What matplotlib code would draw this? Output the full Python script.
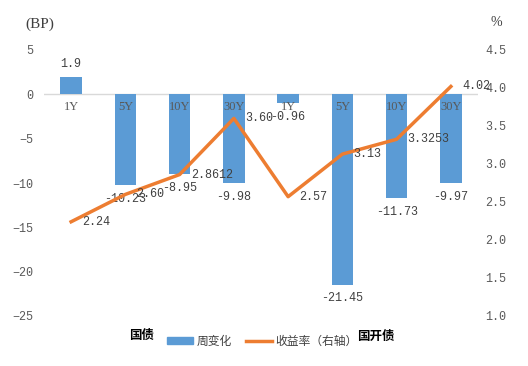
import matplotlib.pyplot as plt
from matplotlib.patches import Patch
from matplotlib.lines import Line2D

# Data
terms   = ["1Y", "5Y", "10Y", "30Y", "1Y", "5Y", "10Y", "30Y"]
weekly  = [1.9, -10.23, -8.95, -9.98, -0.96, -21.45, -11.73, -9.97]
yields  = [2.24, 2.60, 2.8612, 3.60, 2.57, 3.13, 3.3253, 4.02]
yield_labels = ["2.24", "2.60", "2.8612", "3.60", "2.57", "3.13", "3.3253", "4.02"]
groups  = ["国债", "国开债"]

# Style
BAR_COLOUR  = "#5B9BD5"
LINE_COLOUR = "#ED7D31"
TEXT_COLOUR = "#404040"
TICK_COLOUR = "#595959"
CJK = ["Noto Sans CJK SC", "DejaVu Sans"]
NUM = "Liberation Mono"

fig = plt.figure(figsize=(5.28, 3.66), dpi=100)
ax = fig.add_axes([44/528, 1-316/366, (478-44)/528, 266/366])
ax2 = ax.twinx()

x = list(range(len(terms)))
ax.bar(x, weekly, width=0.4, color=BAR_COLOUR, zorder=2)
ax.axhline(0, color="#D9D9D9", lw=1, zorder=1)
ax.set_xlim(-0.5, 7.5)
ax.set_ylim(-25, 5)
ax.set_yticks([5, 0, -5, -10, -15, -20, -25])
ax.set_xticks([])

ax2.plot(x, yields, color=LINE_COLOUR, lw=2.5, zorder=3)
ax2.set_ylim(1.0, 4.5)
ax2.set_yticks([1.0, 1.5, 2.0, 2.5, 3.0, 3.5, 4.0, 4.5])
ax2.set_yticklabels([f"{v:.1f}" for v in ax2.get_yticks()])

for a in (ax, ax2):
    for s in a.spines.values():
        s.set_visible(False)
    a.tick_params(length=0, labelsize=8.5, labelcolor=TICK_COLOUR)
    for lbl in a.get_yticklabels():
        lbl.set_fontfamily(NUM)
ax.tick_params(axis="y", pad=8)
ax2.tick_params(axis="y", pad=5)

# Category labels just under the zero line
for i, t in enumerate(terms):
    ax.annotate(t, (i, 0), xytext=(0, -9), textcoords="offset points",
                ha="center", va="center", fontsize=9, color=TICK_COLOUR,
                family="Liberation Serif")

# Bar value labels
for i, v in enumerate(weekly):
    off = 10 if v > 0 else -10
    ax.annotate(f"{v:g}" if v > 0 else f"{v:.2f}", (i, v), xytext=(0, off),
                textcoords="offset points", ha="center", va="center",
                fontsize=8.5, color=TEXT_COLOUR, family=NUM, zorder=5)

# Line value labels
for i, (v, s) in enumerate(zip(yields, yield_labels)):
    ax2.annotate(s, (i, v), xytext=(8, 0), textcoords="offset points",
                 ha="left", va="center", fontsize=8.5, color=TEXT_COLOUR,
                 family=NUM, zorder=5)

# Axis unit labels
fig.text(40/528, 1-24/366, "(BP)", ha="center", va="center", fontsize=11,
         color=TEXT_COLOUR, family="Liberation Serif")
fig.text(496/528, 1-23/366, "%", ha="center", va="center", fontsize=10,
         color=TEXT_COLOUR, family="Liberation Serif")

# Group labels
fig.text(142/528, 1-335/366, groups[0], ha="center", va="center",
         fontsize=9, fontweight="bold", family=CJK, color="black")
fig.text(376/528, 1-336/366, groups[1], ha="center", va="center",
         fontsize=9, fontweight="bold", family=CJK, color="black")

# Legend
handles = [Patch(color=BAR_COLOUR), Line2D([0], [0], color=LINE_COLOUR, lw=2.5)]
fig.legend(handles, ["周变化", "收益率（右轴）"], loc="center",
           bbox_to_anchor=(262/528, 1-341/366), ncol=2, frameon=False,
           prop={"family": CJK, "size": 8.5}, labelcolor=TEXT_COLOUR,
           handlelength=2.2, handleheight=0.6, columnspacing=1.2, handletextpad=0.3)

fig.savefig("out.png", dpi=100)
